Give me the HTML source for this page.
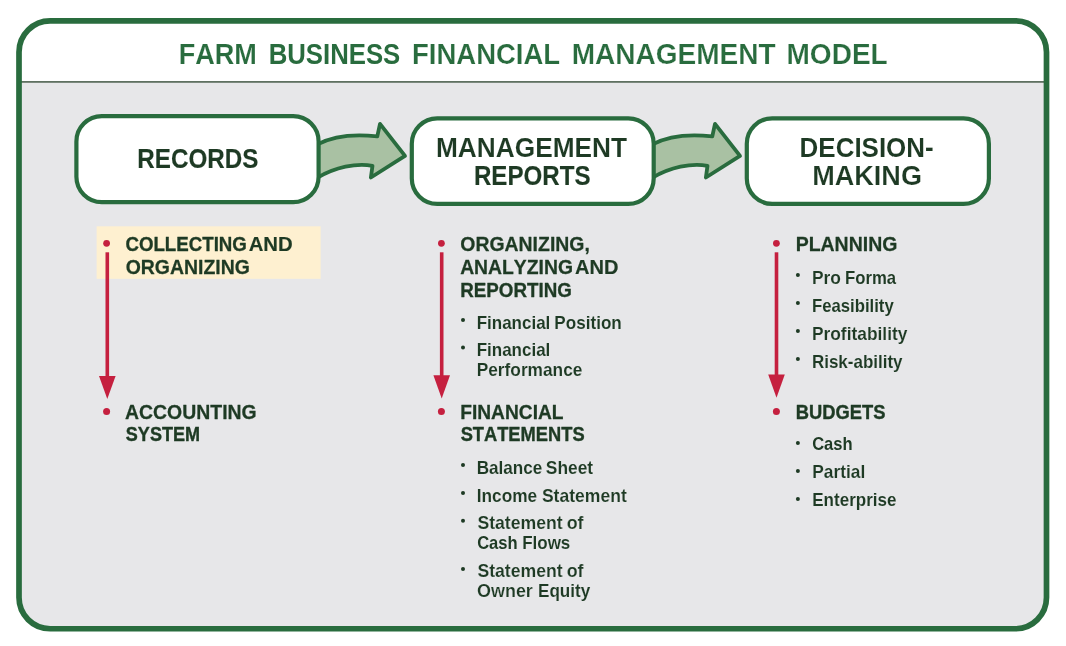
<!DOCTYPE html>
<html><head><meta charset="utf-8"><title>Farm Business Financial Management Model</title>
<style>html,body{margin:0;padding:0;background:#fff;}svg{display:block;opacity:0.999;will-change:transform;}text{font-family:"Liberation Sans",sans-serif;font-kerning:none;stroke-linejoin:round;}</style>
</head><body>
<svg width="1066" height="646" viewBox="0 0 1066 646">
<rect x="0" y="0" width="1066" height="646" fill="#ffffff"/>
<defs><clipPath id="fc"><rect x="19" y="20.85" width="1027.5" height="607.9" rx="31.15" ry="31.15"/></clipPath></defs>
<g clip-path="url(#fc)">
<rect x="0" y="0" width="1066" height="81.9" fill="#ffffff"/>
<rect x="0" y="81.9" width="1066" height="600" fill="#e7e7e9"/>
<rect x="0" y="81.05" width="1066" height="1.7" fill="#586b5a"/>
</g>
<rect x="19" y="20.85" width="1027.5" height="607.9" rx="31.15" ry="31.15" fill="none" stroke="#296c3e" stroke-width="5.7"/>
<path d="M318,144.2 C332,136.5 352,133.6 377.3,136.3 L380,123.9 L405,155.9 L370.9,177.5 L372.5,165.8 C356,162.6 335,167.5 318,177.4 Z" fill="#a9c1a3" stroke="#296c3e" stroke-width="3.8" stroke-linejoin="round"/>
<path d="M653,144.2 C667,136.5 687,133.6 712.3,136.3 L715,123.9 L740,155.9 L705.9,177.5 L707.5,165.8 C691,162.6 670,167.5 653,177.4 Z" fill="#a9c1a3" stroke="#296c3e" stroke-width="3.8" stroke-linejoin="round"/>
<rect x="76.4" y="116.1" width="242.2" height="86" rx="25.4" ry="25.4" fill="#ffffff" stroke="#296c3e" stroke-width="4.2"/>
<rect x="411.8" y="118.3" width="241.9" height="85.6" rx="25.4" ry="25.4" fill="#ffffff" stroke="#296c3e" stroke-width="4.2"/>
<rect x="746.8" y="118.3" width="242.1" height="85.6" rx="25.4" ry="25.4" fill="#ffffff" stroke="#296c3e" stroke-width="4.2"/>
<rect x="96.6" y="226.3" width="224.0" height="52.5" fill="#fef0d0"/>
<circle cx="106.6" cy="243.3" r="3.4" fill="#c5203f"/>
<rect x="105.5" y="252.3" width="3.6" height="124.7" fill="#c5203f"/>
<path d="M99,376 L115.6,376 L107.3,398.9 Z" fill="#c5203f"/>
<circle cx="106.6" cy="411.4" r="3.5" fill="#c5203f"/>
<circle cx="441.4" cy="243.3" r="3.4" fill="#c5203f"/>
<rect x="439.9" y="252.3" width="3.6" height="124" fill="#c5203f"/>
<path d="M433.4,375.3 L450,375.3 L441.7,398.6 Z" fill="#c5203f"/>
<circle cx="441.4" cy="411.4" r="3.5" fill="#c5203f"/>
<circle cx="776.4" cy="243.3" r="3.4" fill="#c5203f"/>
<rect x="774.7" y="252.3" width="3.6" height="123.1" fill="#c5203f"/>
<path d="M768.2,374.4 L784.8,374.4 L776.5,397.7 Z" fill="#c5203f"/>
<circle cx="776.4" cy="411.4" r="3.5" fill="#c5203f"/>
<circle cx="463" cy="319.9" r="2.0" fill="#1e3a24"/>
<circle cx="463" cy="347.6" r="2.0" fill="#1e3a24"/>
<circle cx="463" cy="465" r="2.0" fill="#1e3a24"/>
<circle cx="463" cy="492.9" r="2.0" fill="#1e3a24"/>
<circle cx="463" cy="520.8" r="2.0" fill="#1e3a24"/>
<circle cx="463" cy="568.9" r="2.0" fill="#1e3a24"/>
<circle cx="797.9" cy="275" r="2.0" fill="#1e3a24"/>
<circle cx="797.9" cy="302.9" r="2.0" fill="#1e3a24"/>
<circle cx="797.9" cy="331" r="2.0" fill="#1e3a24"/>
<circle cx="797.9" cy="359.1" r="2.0" fill="#1e3a24"/>
<circle cx="797.9" cy="443.1" r="2.0" fill="#1e3a24"/>
<circle cx="797.9" cy="471" r="2.0" fill="#1e3a24"/>
<circle cx="797.9" cy="499.1" r="2.0" fill="#1e3a24"/>
<text x="178.71" y="64" font-size="29.7" font-weight="bold" fill="#296c3e" stroke="#ffffff" stroke-width="0.13" textLength="78.16" lengthAdjust="spacingAndGlyphs">FARM</text>
<text x="268.66" y="64" font-size="29.7" font-weight="bold" fill="#296c3e" stroke="none" textLength="131.59" lengthAdjust="spacingAndGlyphs">BUSINESS</text>
<text x="412.06" y="64" font-size="29.7" font-weight="bold" fill="#296c3e" stroke="#ffffff" stroke-width="0.18" textLength="148.10" lengthAdjust="spacingAndGlyphs">FINANCIAL</text>
<text x="571.70" y="64" font-size="29.7" font-weight="bold" fill="#296c3e" stroke="#ffffff" stroke-width="0.23" textLength="203.84" lengthAdjust="spacingAndGlyphs">MANAGEMENT</text>
<text x="786.50" y="64" font-size="29.7" font-weight="bold" fill="#296c3e" stroke="#ffffff" stroke-width="0.23" textLength="101.20" lengthAdjust="spacingAndGlyphs">MODEL</text>
<text x="137.32" y="168" font-size="26.8" font-weight="bold" fill="#1e3a24" stroke="#1e3a24" stroke-width="0.14" textLength="121.01" lengthAdjust="spacingAndGlyphs">RECORDS</text>
<text x="435.98" y="157" font-size="26.8" font-weight="bold" fill="#1e3a24" stroke="#ffffff" stroke-width="0.08" textLength="191.08" lengthAdjust="spacingAndGlyphs">MANAGEMENT</text>
<text x="473.92" y="185" font-size="26.8" font-weight="bold" fill="#1e3a24" stroke="#1e3a24" stroke-width="0.14" textLength="116.70" lengthAdjust="spacingAndGlyphs">REPORTS</text>
<text x="799.62" y="157" font-size="26.8" font-weight="bold" fill="#1e3a24" stroke="#ffffff" stroke-width="0.05" textLength="134.06" lengthAdjust="spacingAndGlyphs">DECISION-</text>
<text x="812.19" y="185" font-size="26.8" font-weight="bold" fill="#1e3a24" stroke="#ffffff" stroke-width="0.16" textLength="109.75" lengthAdjust="spacingAndGlyphs">MAKING</text>
<text x="125.42" y="251" font-size="19.5" font-weight="bold" fill="#1e3a24" stroke="#1e3a24" stroke-width="0.34" textLength="121.49" lengthAdjust="spacingAndGlyphs">COLLECTING</text>
<text x="248.67" y="251" font-size="19.5" font-weight="bold" fill="#1e3a24" stroke="#1e3a24" stroke-width="0.16" textLength="44.10" lengthAdjust="spacingAndGlyphs">AND</text>
<text x="125.65" y="274" font-size="19.5" font-weight="bold" fill="#1e3a24" stroke="#1e3a24" stroke-width="0.26" textLength="124.24" lengthAdjust="spacingAndGlyphs">ORGANIZING</text>
<text x="125.04" y="419" font-size="19.5" font-weight="bold" fill="#1e3a24" stroke="#1e3a24" stroke-width="0.26" textLength="131.65" lengthAdjust="spacingAndGlyphs">ACCOUNTING</text>
<text x="125.84" y="441" font-size="19.5" font-weight="bold" fill="#1e3a24" stroke="#1e3a24" stroke-width="0.41" textLength="74.19" lengthAdjust="spacingAndGlyphs">SYSTEM</text>
<text x="460.36" y="251" font-size="19.5" font-weight="bold" fill="#1e3a24" stroke="#1e3a24" stroke-width="0.26" textLength="129.43" lengthAdjust="spacingAndGlyphs">ORGANIZING,</text>
<text x="460.15" y="274" font-size="19.5" font-weight="bold" fill="#1e3a24" stroke="#1e3a24" stroke-width="0.27" textLength="112.83" lengthAdjust="spacingAndGlyphs">ANALYZING</text>
<text x="574.99" y="274" font-size="19.5" font-weight="bold" fill="#1e3a24" stroke="#1e3a24" stroke-width="0.19" textLength="43.46" lengthAdjust="spacingAndGlyphs">AND</text>
<text x="460.24" y="297" font-size="19.5" font-weight="bold" fill="#1e3a24" stroke="#1e3a24" stroke-width="0.33" textLength="111.68" lengthAdjust="spacingAndGlyphs">REPORTING</text>
<text x="460.19" y="419" font-size="19.5" font-weight="bold" fill="#1e3a24" stroke="#1e3a24" stroke-width="0.29" textLength="103.36" lengthAdjust="spacingAndGlyphs">FINANCIAL</text>
<text x="460.63" y="441" font-size="19.5" font-weight="bold" fill="#1e3a24" stroke="#1e3a24" stroke-width="0.38" textLength="123.96" lengthAdjust="spacingAndGlyphs">STATEMENTS</text>
<text x="795.66" y="251" font-size="19.5" font-weight="bold" fill="#1e3a24" stroke="#1e3a24" stroke-width="0.26" textLength="101.74" lengthAdjust="spacingAndGlyphs">PLANNING</text>
<text x="795.79" y="419" font-size="19.5" font-weight="bold" fill="#1e3a24" stroke="#1e3a24" stroke-width="0.38" textLength="89.70" lengthAdjust="spacingAndGlyphs">BUDGETS</text>
<text x="476.75" y="329" font-size="18.4" font-weight="bold" fill="#1e3a24" stroke="#e7e7e9" stroke-width="0.06" textLength="73.53" lengthAdjust="spacingAndGlyphs">Financial</text>
<text x="554.34" y="329" font-size="18.4" font-weight="bold" fill="#1e3a24" stroke="#e7e7e9" stroke-width="0.08" textLength="67.44" lengthAdjust="spacingAndGlyphs">Position</text>
<text x="476.75" y="356" font-size="18.4" font-weight="bold" fill="#1e3a24" stroke="#e7e7e9" stroke-width="0.06" textLength="73.53" lengthAdjust="spacingAndGlyphs">Financial</text>
<text x="476.71" y="376" font-size="18.4" font-weight="bold" fill="#1e3a24" stroke="#e7e7e9" stroke-width="0.10" textLength="105.69" lengthAdjust="spacingAndGlyphs">Performance</text>
<text x="476.73" y="474" font-size="18.4" font-weight="bold" fill="#1e3a24" stroke="#e7e7e9" stroke-width="0.08" textLength="65.65" lengthAdjust="spacingAndGlyphs">Balance</text>
<text x="545.80" y="474" font-size="18.4" font-weight="bold" fill="#1e3a24" stroke="#e7e7e9" stroke-width="0.10" textLength="47.30" lengthAdjust="spacingAndGlyphs">Sheet</text>
<text x="476.72" y="502" font-size="18.4" font-weight="bold" fill="#1e3a24" stroke="#e7e7e9" stroke-width="0.10" textLength="60.48" lengthAdjust="spacingAndGlyphs">Income</text>
<text x="541.89" y="502" font-size="18.4" font-weight="bold" fill="#1e3a24" stroke="#e7e7e9" stroke-width="0.13" textLength="84.93" lengthAdjust="spacingAndGlyphs">Statement</text>
<text x="477.38" y="529" font-size="18.4" font-weight="bold" fill="#1e3a24" stroke="#e7e7e9" stroke-width="0.14" textLength="85.34" lengthAdjust="spacingAndGlyphs">Statement</text>
<text x="566.69" y="529" font-size="18.4" font-weight="bold" fill="#1e3a24" stroke="#e7e7e9" stroke-width="0.14" textLength="16.86" lengthAdjust="spacingAndGlyphs">of</text>
<text x="477.13" y="549" font-size="18.4" font-weight="bold" fill="#1e3a24" stroke="none" textLength="40.49" lengthAdjust="spacingAndGlyphs">Cash</text>
<text x="522.15" y="549" font-size="18.4" font-weight="bold" fill="#1e3a24" stroke="#e7e7e9" stroke-width="0.07" textLength="48.20" lengthAdjust="spacingAndGlyphs">Flows</text>
<text x="477.38" y="577" font-size="18.4" font-weight="bold" fill="#1e3a24" stroke="#e7e7e9" stroke-width="0.14" textLength="85.34" lengthAdjust="spacingAndGlyphs">Statement</text>
<text x="566.69" y="577" font-size="18.4" font-weight="bold" fill="#1e3a24" stroke="#e7e7e9" stroke-width="0.14" textLength="16.86" lengthAdjust="spacingAndGlyphs">of</text>
<text x="477.00" y="597" font-size="18.4" font-weight="bold" fill="#1e3a24" stroke="#e7e7e9" stroke-width="0.17" textLength="55.85" lengthAdjust="spacingAndGlyphs">Owner</text>
<text x="538.04" y="597" font-size="18.4" font-weight="bold" fill="#1e3a24" stroke="#e7e7e9" stroke-width="0.08" textLength="52.24" lengthAdjust="spacingAndGlyphs">Equity</text>
<text x="811.91" y="284" font-size="18.4" font-weight="bold" fill="#1e3a24" stroke="#e7e7e9" stroke-width="0.10" textLength="28.98" lengthAdjust="spacingAndGlyphs">Pro</text>
<text x="844.98" y="284" font-size="18.4" font-weight="bold" fill="#1e3a24" stroke="#e7e7e9" stroke-width="0.04" textLength="51.11" lengthAdjust="spacingAndGlyphs">Forma</text>
<text x="811.98" y="312" font-size="18.4" font-weight="bold" fill="#1e3a24" stroke="#e7e7e9" stroke-width="0.04" textLength="81.78" lengthAdjust="spacingAndGlyphs">Feasibility</text>
<text x="811.90" y="340" font-size="18.4" font-weight="bold" fill="#1e3a24" stroke="#e7e7e9" stroke-width="0.11" textLength="95.58" lengthAdjust="spacingAndGlyphs">Profitability</text>
<text x="811.95" y="368" font-size="18.4" font-weight="bold" fill="#1e3a24" stroke="#e7e7e9" stroke-width="0.07" textLength="90.62" lengthAdjust="spacingAndGlyphs">Risk-ability</text>
<text x="812.13" y="450" font-size="18.4" font-weight="bold" fill="#1e3a24" stroke="none" textLength="40.49" lengthAdjust="spacingAndGlyphs">Cash</text>
<text x="812.21" y="478" font-size="18.4" font-weight="bold" fill="#1e3a24" stroke="#e7e7e9" stroke-width="0.10" textLength="53.02" lengthAdjust="spacingAndGlyphs">Partial</text>
<text x="812.24" y="506" font-size="18.4" font-weight="bold" fill="#1e3a24" stroke="#e7e7e9" stroke-width="0.07" textLength="84.24" lengthAdjust="spacingAndGlyphs">Enterprise</text>
</svg>
</body></html>
